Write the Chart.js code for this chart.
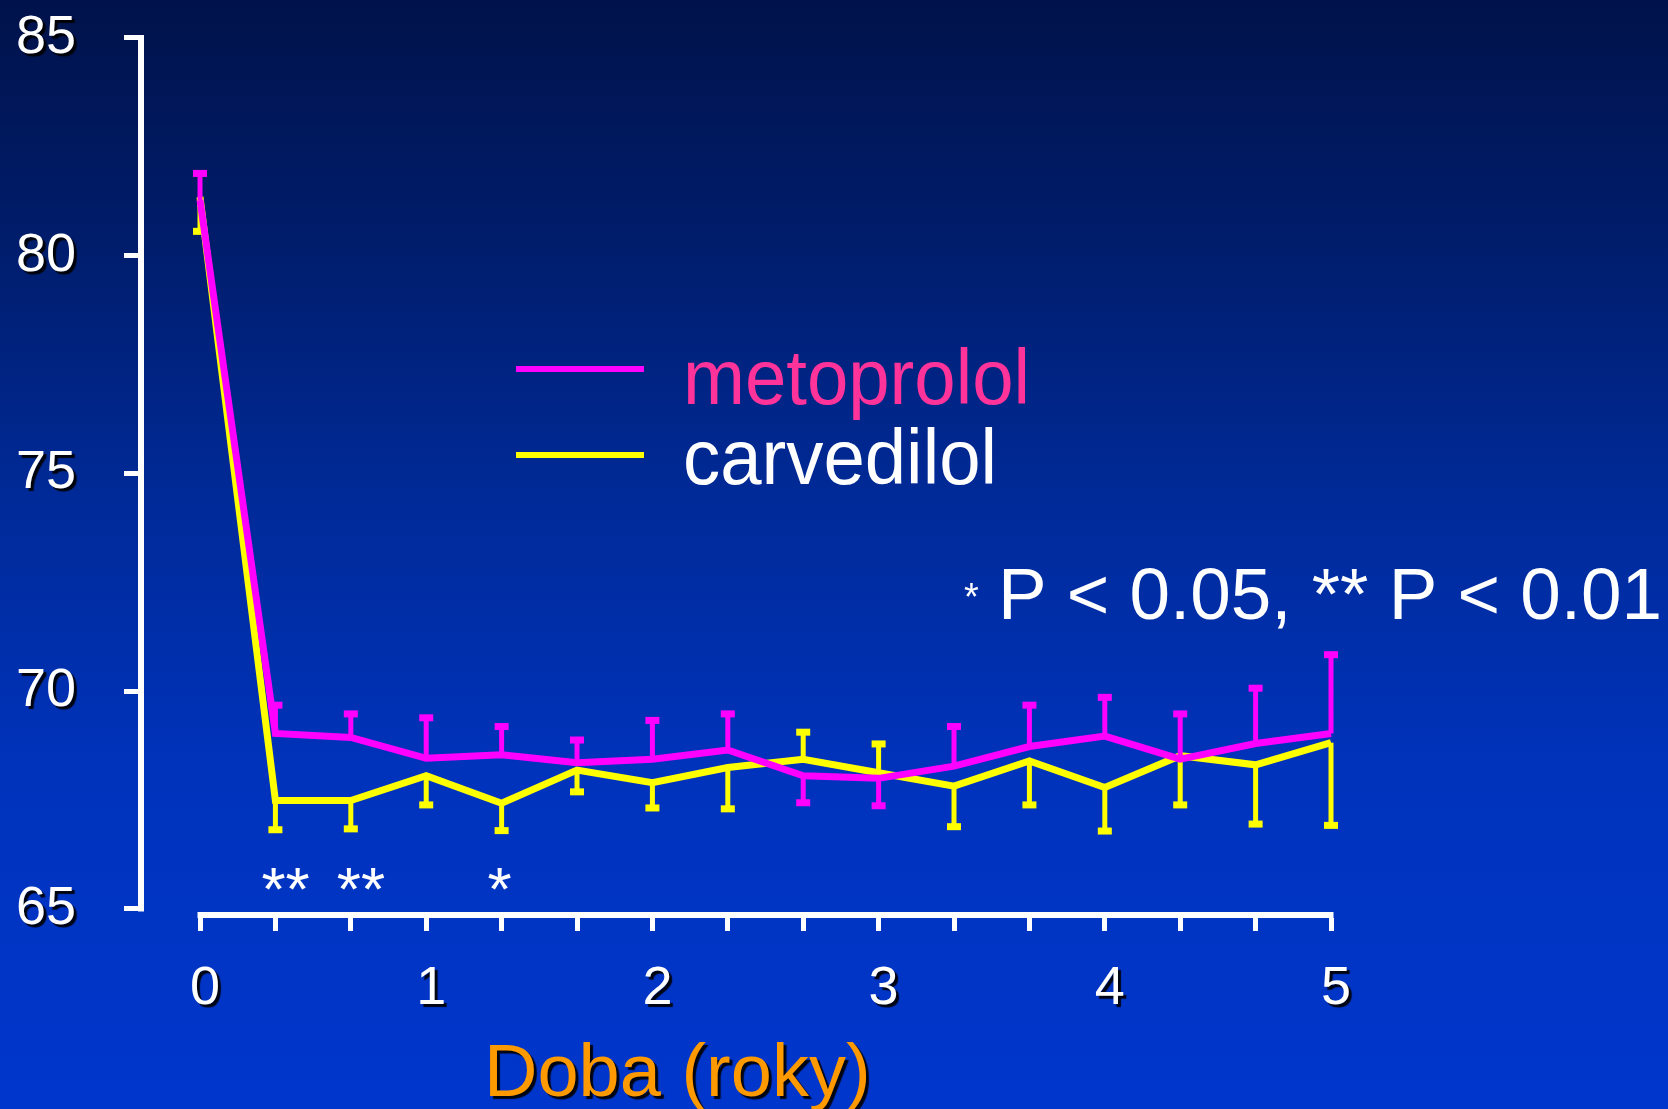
<!DOCTYPE html>
<html>
<head>
<meta charset="utf-8">
<title>Tepová frekvence – metoprolol vs carvedilol</title>
<script src="https://cdn.jsdelivr.net/npm/chart.js@4.4.1/dist/chart.umd.min.js"></script>
<style>
  html, body { margin: 0; padding: 0; background: #0030b0; }
  #wrap { width: 1668px; height: 1109px; position: relative; }
</style>
</head>
<body>
<div id="wrap"><canvas id="chart" width="1668" height="1109"></canvas></div>
<script>
// Visit times (months from randomisation)
const months = [0, 4, 8, 12, 16, 20, 24, 28, 32, 36, 40, 44, 48, 52, 56, 60];

// Mean heart rate per visit, with the one-sided error bar (+ up, - down)
const metoprolol    = [81.28, 69.03, 68.94, 68.46, 68.54, 68.36, 68.44, 68.65, 68.06, 68.00, 68.28, 68.73, 68.97, 68.44, 68.80, 69.03];
const metoprololErr = [0.61, 0.65, 0.54, 0.93, 0.65, 0.52, 0.89, 0.83, -0.62, -0.63, 0.91, 0.95, 0.89, 1.04, 1.27, 1.81];
const carvedilol    = [81.35, 67.49, 67.49, 68.06, 67.43, 68.19, 67.90, 68.25, 68.44, 68.13, 67.82, 68.40, 67.79, 68.52, 68.31, 68.82];
const carvedilolErr = [-0.79, -0.67, -0.65, -0.67, -0.63, -0.50, -0.58, -0.95, 0.62, 0.66, -0.93, -1.01, -1.00, -1.13, -1.36, -1.90];

// Significance of the between-group difference at each visit
const significance = ['', '**', '**', '', '*', '', '', '', '', '', '', '', '', '', '', ''];

const seriesNames = ['metoprolol', 'carvedilol'];
const yTicks = [65, 70, 75, 80, 85];
const xTitle = 'Doba (roky)';
const pNoteSmall = '*';
const pNote = 'P < 0.05, ** P < 0.01';

const FONT = '"Liberation Sans", Arial, Helvetica, sans-serif';
const MAGENTA = '#ff00ff';
const YELLOW = '#ffff00';

const toPoints = (vals) => vals.map((v, i) => ({ x: months[i] / 12, y: v }));

// Slide background: vertical navy-to-blue gradient
const backgroundPlugin = {
  id: 'slideBackground',
  beforeDraw(chart) {
    const { ctx, width, height } = chart;
    const g = ctx.createLinearGradient(0, 0, 0, height);
    g.addColorStop(0.00, '#00124a');
    g.addColorStop(0.22, '#001d6c');
    g.addColorStop(0.45, '#002a98');
    g.addColorStop(0.70, '#0033bc');
    g.addColorStop(1.00, '#0036cc');
    ctx.save();
    ctx.fillStyle = g;
    ctx.fillRect(0, 0, width, height);
    ctx.restore();
  }
};

// Detached axis lines: y from 65 to 85, x from 0 to 5 years
const axisLinePlugin = {
  id: 'axisLines',
  beforeDatasetsDraw(chart) {
    const { ctx, chartArea } = chart;
    const xs = chart.scales.x, ys = chart.scales.y;
    ctx.save();
    ctx.strokeStyle = '#ffffff';
    ctx.lineWidth = 6;
    ctx.lineCap = 'butt';
    const ax = chartArea.left - 3;
    ctx.beginPath();
    ctx.moveTo(ax, ys.getPixelForValue(yTicks[yTicks.length - 1]) - 2.5);
    ctx.lineTo(ax, ys.getPixelForValue(yTicks[0]) + 2.5);
    ctx.stroke();
    const ay = chartArea.bottom - 3;
    ctx.beginPath();
    ctx.moveTo(xs.getPixelForValue(months[0] / 12) - 2.5, ay);
    ctx.lineTo(xs.getPixelForValue(months[months.length - 1] / 12) + 2.5, ay);
    ctx.stroke();
    ctx.restore();
  }
};

// One-sided error bars with square caps, drawn with each series
const errorBarPlugin = {
  id: 'errorBars',
  afterDatasetDraw(chart, args) {
    const ds = chart.data.datasets[args.index];
    if (!ds.errors) return;
    const ys = chart.scales.y;
    const ctx = chart.ctx;
    ctx.save();
    ctx.strokeStyle = ds.borderColor;
    ctx.fillStyle = ds.borderColor;
    ctx.lineWidth = 5;
    ctx.lineCap = 'butt';
    args.meta.data.forEach((pt, i) => {
      const v = ds.data[i].y;
      const yEnd = ys.getPixelForValue(v + ds.errors[i]);
      ctx.beginPath();
      ctx.moveTo(pt.x, pt.y);
      ctx.lineTo(pt.x, yEnd);
      ctx.stroke();
      ctx.fillRect(pt.x - 7, yEnd - 3.5, 14, 7);
    });
    ctx.restore();
  }
};

// Drop shadow on tick labels, then legend, notes and axis title
const textPlugin = {
  id: 'slideText',
  afterDatasetsDraw(chart) {
    const ctx = chart.ctx;
    ctx.save();
    ctx.shadowColor = 'rgba(0,0,0,0.9)';
    ctx.shadowOffsetX = 3;
    ctx.shadowOffsetY = 3;
    ctx.shadowBlur = 1;
  },
  afterDraw(chart) {
    const ctx = chart.ctx;
    ctx.restore();
    const xs = chart.scales.x;
    const dsets = chart.data.datasets;

    ctx.save();
    // legend
    const legendRows = [
      { y: 369, base: 404, color: '#ff3399', width: 347 },
      { y: 455, base: 484, color: '#ffffff', width: 314 }
    ];
    legendRows.forEach((row, i) => {
      ctx.strokeStyle = dsets[i].borderColor;
      ctx.lineWidth = 6;
      ctx.beginPath();
      ctx.moveTo(516, row.y);
      ctx.lineTo(644, row.y);
      ctx.stroke();
      ctx.font = '78px ' + FONT;
      ctx.fillStyle = row.color;
      ctx.textAlign = 'left';
      ctx.textBaseline = 'alphabetic';
      ctx.fillText(seriesNames[i], 683, row.base, row.width);
    });

    // significance note
    ctx.fillStyle = '#ffffff';
    ctx.font = '38px ' + FONT;
    ctx.fillText(pNoteSmall, 964, 610);
    ctx.font = '73px ' + FONT;
    ctx.fillText(pNote, 998, 619, 664);

    // significance markers under the curves
    ctx.font = '62px ' + FONT;
    significance.forEach((s, i) => {
      if (!s) return;
      ctx.fillText(s, xs.getPixelForValue(months[i] / 12) - 14, 910);
    });

    // x-axis title
    ctx.shadowColor = 'rgba(0,0,0,0.9)';
    ctx.shadowOffsetX = 3;
    ctx.shadowOffsetY = 3;
    ctx.shadowBlur = 1;
    ctx.fillStyle = '#ff9900';
    ctx.font = '74px ' + FONT;
    ctx.fillText(xTitle, 484, 1096);
    ctx.restore();
  }
};

new Chart(document.getElementById('chart'), {
  type: 'line',
  data: {
    datasets: [
      {
        label: seriesNames[0],
        data: toPoints(metoprolol),
        errors: metoprololErr,
        borderColor: MAGENTA,
        borderWidth: 7,
        borderJoinStyle: 'miter',
        pointRadius: 0,
        tension: 0,
        fill: false,
        clip: false
      },
      {
        label: seriesNames[1],
        data: toPoints(carvedilol),
        errors: carvedilolErr,
        borderColor: YELLOW,
        borderWidth: 7,
        borderJoinStyle: 'miter',
        pointRadius: 0,
        tension: 0,
        fill: false,
        clip: false
      }
    ]
  },
  options: {
    responsive: false,
    maintainAspectRatio: false,
    devicePixelRatio: 1,
    animation: false,
    events: [],
    layout: { padding: { top: 30, right: 268, left: 0, bottom: 0 } },
    plugins: {
      legend: { display: false },
      title: { display: false },
      tooltip: { enabled: false }
    },
    scales: {
      x: {
        type: 'linear',
        min: -0.2476,
        max: 5.305,
        afterBuildTicks: (s) => { s.ticks = months.map(m => ({ value: m / 12 })); },
        afterFit: (s) => { s.height = 191; s.paddingLeft = 0; s.paddingRight = 0; },
        border: { display: false },
        grid: { display: true, drawOnChartArea: false, drawTicks: true, tickLength: 13, color: '#ffffff', lineWidth: 5 },
        ticks: {
          autoSkip: false,
          maxRotation: 0,
          color: '#ffffff',
          font: { family: FONT, size: 54 },
          padding: 26,
          labelOffset: 5,
          z: 1,
          callback: (v) => {
            const r = Math.round(v);
            return Math.abs(v - r) < 1e-6 ? String(r) : '';
          }
        }
      },
      y: {
        type: 'linear',
        min: 64.7933,
        max: 85.1833,
        afterBuildTicks: (s) => { s.ticks = yTicks.map(v => ({ value: v })); },
        afterFit: (s) => { s.width = 144; s.paddingTop = 0; s.paddingBottom = 0; },
        border: { display: false },
        grid: { display: true, drawOnChartArea: false, drawTicks: true, tickLength: 20, color: '#ffffff', lineWidth: 5 },
        ticks: {
          color: '#ffffff',
          font: { family: FONT, size: 54 },
          padding: 48,
          z: 1
        }
      }
    }
  },
  plugins: [backgroundPlugin, axisLinePlugin, errorBarPlugin, textPlugin]
});
</script>
</body>
</html>
